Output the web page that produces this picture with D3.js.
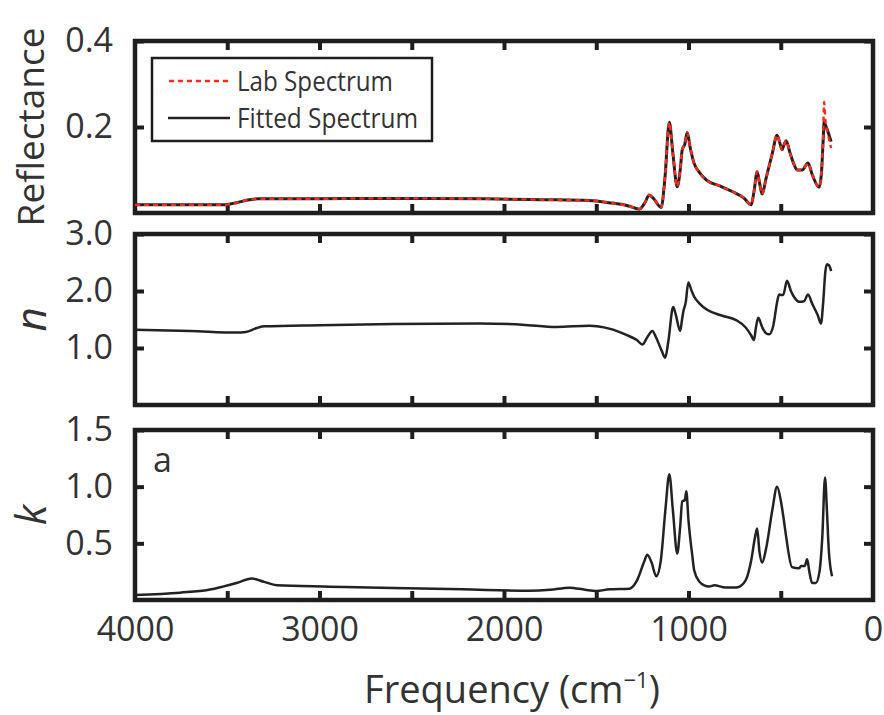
<!DOCTYPE html>
<html lang="en">
<head>
    <meta charset="UTF-8">
    <title>Reflectance, n and k spectra</title>
    <script src="https://d3js.org/d3.v7.min.js"></script>
    <style>
        body { margin: 0; background: #fff; }
        text { font-family: "Open Sans", sans-serif; fill: #333; }
    </style>
</head>
<body>
    <svg id="chart" width="884" height="715"></svg>
    <script>
        // Reflectance (top panel)
        const reflFreq = [4000, 3700, 3520, 3450, 3380, 3330, 3000, 2700, 2400, 2100, 1800, 1540, 1430, 1330, 1267, 1235, 1213, 1190, 1148, 1128, 1104, 1085, 1061, 1045, 1034, 1020, 1007, 990, 970, 940, 904, 830, 763, 700, 660, 645, 628, 615, 601, 580, 545, 520, 503, 493, 481, 471, 450, 430, 411, 384, 352, 330, 292, 280, 270, 265, 258, 245, 227];
        const fitRefl = [0.019, 0.019, 0.019, 0.024, 0.031, 0.033, 0.033, 0.034, 0.034, 0.033, 0.031, 0.029, 0.024, 0.017, 0.009, 0.025, 0.042, 0.034, 0.013, 0.080, 0.211, 0.140, 0.061, 0.100, 0.147, 0.160, 0.187, 0.150, 0.116, 0.094, 0.077, 0.063, 0.050, 0.035, 0.019, 0.050, 0.096, 0.070, 0.044, 0.080, 0.140, 0.181, 0.160, 0.147, 0.160, 0.168, 0.140, 0.115, 0.100, 0.100, 0.116, 0.090, 0.060, 0.090, 0.170, 0.212, 0.205, 0.190, 0.166];
        const labRefl = [0.019, 0.019, 0.019, 0.024, 0.031, 0.033, 0.033, 0.034, 0.034, 0.033, 0.031, 0.029, 0.024, 0.017, 0.009, 0.025, 0.042, 0.034, 0.013, 0.080, 0.211, 0.140, 0.061, 0.100, 0.147, 0.160, 0.187, 0.150, 0.116, 0.094, 0.077, 0.063, 0.050, 0.035, 0.019, 0.050, 0.096, 0.070, 0.044, 0.080, 0.140, 0.181, 0.160, 0.147, 0.160, 0.168, 0.140, 0.115, 0.100, 0.100, 0.116, 0.090, 0.060, 0.090, 0.180, 0.258, 0.215, 0.185, 0.151];

        // Refractive index n (middle panel)
        const nFreq = [4000, 3700, 3450, 3400, 3340, 3300, 3000, 2600, 2130, 1900, 1716, 1537, 1430, 1337, 1280, 1250, 1225, 1196, 1175, 1145, 1126, 1110, 1083, 1070, 1045, 1035, 1028, 1015, 1001, 985, 969, 940, 899, 820, 742, 690, 660, 645, 635, 622, 600, 580, 563, 540, 520, 509, 495, 487, 466, 445, 425, 401, 374, 352, 330, 300, 282, 270, 258, 249, 238, 227];
        const nVals = [1.32, 1.30, 1.27, 1.28, 1.35, 1.38, 1.40, 1.42, 1.43, 1.41, 1.37, 1.39, 1.34, 1.23, 1.14, 1.06, 1.18, 1.30, 1.18, 0.95, 0.83, 1.10, 1.72, 1.60, 1.30, 1.50, 1.64, 1.80, 2.15, 2.02, 1.90, 1.78, 1.67, 1.57, 1.49, 1.36, 1.22, 1.14, 1.35, 1.53, 1.36, 1.26, 1.24, 1.40, 1.80, 1.94, 1.93, 1.93, 2.18, 2.00, 1.88, 1.81, 1.82, 1.94, 1.78, 1.58, 1.43, 1.80, 2.35, 2.47, 2.45, 2.35];

        // Extinction coefficient k (bottom panel)
        const kFreq = [4000, 3756, 3600, 3524, 3450, 3367, 3300, 3231, 2945, 2600, 2225, 1862, 1750, 1646, 1560, 1500, 1429, 1320, 1277, 1240, 1223, 1200, 1175, 1150, 1125, 1104, 1085, 1061, 1045, 1034, 1020, 1012, 1000, 980, 969, 940, 915, 888, 860, 800, 742, 700, 688, 660, 640, 628, 615, 601, 580, 545, 520, 500, 482, 470, 439, 400, 390, 370, 357, 345, 330, 310, 290, 275, 260, 250, 240, 222];
        const kVals = [0.044, 0.065, 0.090, 0.118, 0.150, 0.190, 0.160, 0.130, 0.118, 0.105, 0.094, 0.082, 0.090, 0.109, 0.090, 0.080, 0.094, 0.100, 0.180, 0.340, 0.400, 0.330, 0.210, 0.350, 0.800, 1.110, 0.800, 0.410, 0.650, 0.870, 0.880, 0.960, 0.700, 0.400, 0.260, 0.160, 0.130, 0.120, 0.130, 0.110, 0.110, 0.150, 0.180, 0.350, 0.550, 0.630, 0.420, 0.330, 0.450, 0.800, 1.000, 0.880, 0.690, 0.550, 0.290, 0.280, 0.300, 0.300, 0.360, 0.250, 0.150, 0.150, 0.250, 0.550, 1.080, 0.800, 0.450, 0.210];

        // Axis ticks and labels
        const xMinorTicks = [3500, 3000, 2500, 2000, 1500, 1000, 500];
        const xLabelTicks = [4000, 3000, 2000, 1000, 0];
        const legendLabels = ["Lab Spectrum", "Fitted Spectrum"];

        const svg = d3.select("#chart");
        const ink = "#1e1e1e";

        const x = d3.scaleLinear().domain([4000, 0]).range([135, 873]);

        const panels = [
            { label: "Reflectance", italic: false, domain: [0, 0.4], range: [213, 41], ticks: [0.2, 0.4], fmt: d3.format(".1f") },
            { label: "n", italic: true, domain: [0, 3], range: [405, 234], ticks: [1, 2, 3], fmt: d3.format(".1f") },
            { label: "k", italic: true, domain: [0, 1.5], range: [600, 430], ticks: [0.5, 1, 1.5], fmt: d3.format(".1f") }
        ];
        panels.forEach(p => p.y = d3.scaleLinear().domain(p.domain).range(p.range));

        function styleAxis(g) {
            g.select(".domain").remove();
            g.selectAll(".tick line").attr("stroke", ink).attr("stroke-width", 4);
            g.selectAll(".tick text").attr("font-size", 34).attr("fill", "#333")
                .attr("font-family", "'Open Sans', sans-serif");
        }

        panels.forEach((p, i) => {
            const top = p.range[1], bottom = p.range[0];
            const g = svg.append("g");

            // inward ticks on all four sides
            g.append("g").attr("transform", `translate(0,${bottom})`)
                .call(d3.axisBottom(x).tickValues(xMinorTicks).tickSize(-9).tickFormat(""))
                .call(styleAxis);
            g.append("g").attr("transform", `translate(0,${top})`)
                .call(d3.axisTop(x).tickValues(xMinorTicks).tickSize(-9).tickFormat(""))
                .call(styleAxis);
            g.append("g").attr("transform", `translate(${x(4000)},0)`)
                .call(d3.axisLeft(p.y).tickValues(p.ticks).tickSize(-9).tickPadding(22).tickFormat(p.fmt))
                .call(styleAxis);
            g.append("g").attr("transform", `translate(${x(0)},0)`)
                .call(d3.axisRight(p.y).tickValues(p.ticks).tickSize(-9).tickFormat(""))
                .call(styleAxis);

            // frame
            g.append("rect")
                .attr("x", x(4000)).attr("y", top)
                .attr("width", x(0) - x(4000)).attr("height", bottom - top)
                .attr("fill", "none").attr("stroke", ink).attr("stroke-width", 4.5);

            // y label
            const lbl = svg.append("text")
                .attr("transform", `translate(${p.italic ? 46 : 44},${(top + bottom) / 2}) rotate(-90)`)
                .attr("text-anchor", "middle")
                .attr("font-size", p.italic ? 42 : 37)
                .text(p.label);
            if (p.italic) lbl.attr("font-style", "italic");

            if (i === 2) {
                g.append("g").attr("transform", `translate(0,${bottom})`)
                    .call(d3.axisBottom(x).tickValues(xLabelTicks).tickSize(0).tickPadding(17).tickFormat(d3.format("d")))
                    .call(styleAxis);
            }
        });

        const line = (freqs, vals, y) => d3.line()
            .x((d, i) => x(freqs[i]))
            .y(d => y(d))
            .curve(d3.curveMonotoneX)(vals);

        // top panel: fitted (black) under lab (red dashed)
        svg.append("path").attr("d", line(reflFreq, fitRefl, panels[0].y))
            .attr("fill", "none").attr("stroke", "#222").attr("stroke-width", 3);
        svg.append("path").attr("d", line(reflFreq, labRefl, panels[0].y))
            .attr("fill", "none").attr("stroke", "#ff2a1a").attr("stroke-width", 2.4)
            .attr("stroke-dasharray", "5,4");

        svg.append("path").attr("d", line(nFreq, nVals, panels[1].y))
            .attr("fill", "none").attr("stroke", "#222").attr("stroke-width", 2.5);
        svg.append("path").attr("d", line(kFreq, kVals, panels[2].y))
            .attr("fill", "none").attr("stroke", "#222").attr("stroke-width", 2.5);

        // legend
        const legend = svg.append("g").attr("transform", "translate(152,58)");
        legend.append("rect").attr("width", 280).attr("height", 83)
            .attr("fill", "#fff").attr("stroke", ink).attr("stroke-width", 2.5);
        legend.append("line").attr("x1", 17).attr("x2", 77).attr("y1", 23).attr("y2", 23)
            .attr("stroke", "#ff2a1a").attr("stroke-width", 2.4).attr("stroke-dasharray", "5,4");
        legend.append("line").attr("x1", 16).attr("x2", 78).attr("y1", 60).attr("y2", 60)
            .attr("stroke", "#222").attr("stroke-width", 2.4);
        legend.append("text").attr("x", 85).attr("y", 33).attr("font-size", 27)
            .attr("textLength", 156).attr("lengthAdjust", "spacingAndGlyphs").text(legendLabels[0]);
        legend.append("text").attr("x", 85).attr("y", 70).attr("font-size", 27)
            .attr("textLength", 181).attr("lengthAdjust", "spacingAndGlyphs").text(legendLabels[1]);

        // panel tag
        svg.append("text").attr("x", 153).attr("y", 472).attr("font-size", 34).text("a");

        // x axis title
        const xt = svg.append("text").attr("x", 512).attr("y", 703)
            .attr("text-anchor", "middle").attr("font-size", 38);
        xt.append("tspan").text("Frequency (cm");
        xt.append("tspan").attr("dy", -15).attr("font-size", 22).text("\u22121");
        xt.append("tspan").attr("dy", 15).text(")");
    </script>
</body>
</html>
